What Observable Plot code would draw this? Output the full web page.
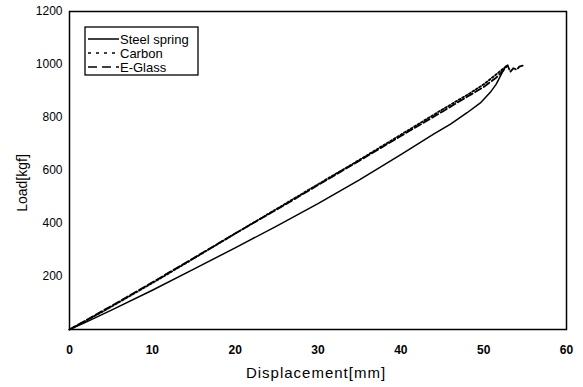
<!DOCTYPE html>
<html><head><meta charset="utf-8">
<script src="https://cdn.jsdelivr.net/npm/d3@7"></script>
<script src="https://cdn.jsdelivr.net/npm/@observablehq/plot@0.6"></script>
<style>
body{margin:0;background:#fff;}
#chart{width:583px;height:387px;}
</style></head><body><div id="chart"></div>
<script>
const xTicks = [0, 10, 20, 30, 40, 50, 60];
const yTicks = [200, 400, 600, 800, 1000, 1200];
const seriesNames = ["Steel spring", "Carbon", "E-Glass"];
const xTitle = "Displacement[mm]";
const yTitle = "Load[kgf]";

const steelX = [0, 2, 5, 10, 15, 20, 25, 30, 35, 40, 44, 46, 48, 49.6, 50.8, 51.5, 52, 52.5, 52.8];
const steelY = [0, 28, 72, 148, 228, 308, 390, 475, 565, 660, 738, 775, 818, 855, 895, 925, 955, 985, 996];

const carbonX = [0, 2, 5, 10, 15, 20, 25, 30, 35, 40, 45, 48, 50, 51.2, 52, 52.8];
const carbonY = [0, 33, 85, 175, 268, 362, 455, 548, 640, 735, 830, 885, 925, 955, 975, 996];

const glassX = [0, 2, 5, 10, 15, 20, 25, 30, 35, 40, 45, 48, 50, 51.5, 52.3, 52.9, 53.2, 53.6, 54.0, 54.3, 54.7];
const glassY = [0, 35, 88, 178, 270, 362, 452, 545, 637, 730, 822, 878, 915, 950, 975, 997, 972, 986, 980, 992, 996];

const toRows = (xs, ys) => xs.map((x, i) => ({x, y: ys[i]}));
const steel = toRows(steelX, steelY);
const carbon = toRows(carbonX, carbonY);
const glass = toRows(glassX, glassY);

const font = "'Liberation Sans', Arial, sans-serif";
const plot = Plot.plot({
  width: 583, height: 387,
  marginLeft: 69, marginRight: 17, marginTop: 11, marginBottom: 58,
  style: {fontFamily: font, background: "#fff", color: "#000"},
  x: {domain: [0, 60]},
  y: {domain: [0, 1200]},
  marks: [
    Plot.axisX({ticks: xTicks, tickFormat: d => String(d), tickSize: 0, tickPadding: 16, fontSize: 12, fontWeight: "bold", label: null}),
    Plot.axisY({ticks: yTicks, tickFormat: d => String(d), tickSize: 0, tickPadding: 7, fontSize: 12, label: null}),
    Plot.line(steel, {x: "x", y: "y", stroke: "#000", strokeWidth: 1.5}),
    Plot.line(carbon, {x: "x", y: "y", stroke: "#000", strokeWidth: 1.8, strokeDasharray: "2,2"}),
    Plot.line(glass, {x: "x", y: "y", stroke: "#000", strokeWidth: 1.8, strokeDasharray: "7,3"}),
    Plot.frame({stroke: "#000", strokeWidth: 1.5})
  ]
});
document.getElementById("chart").appendChild(plot);

const svg = d3.select(plot);
svg.append("text").attr("x", 316).attr("y", 378).attr("text-anchor", "middle")
  .style("font-family", font).style("font-size", "15px").style("letter-spacing", "1px").text(xTitle);
svg.append("text").attr("transform", "translate(27,183) rotate(-90)").attr("text-anchor", "middle")
  .style("font-family", font).style("font-size", "14px").text(yTitle);

const lg = svg.append("g");
lg.append("rect").attr("x", 85).attr("y", 27).attr("width", 113).attr("height", 48)
  .attr("fill", "#fff").attr("stroke", "#000").attr("stroke-width", 1.3);
const dashes = [null, "3,5", "9,5"];
seriesNames.forEach((name, i) => {
  const cy = 39 + i * 14;
  lg.append("line").attr("x1", 88).attr("x2", 119).attr("y1", cy).attr("y2", cy)
    .attr("stroke", "#000").attr("stroke-width", 1.5).attr("stroke-dasharray", dashes[i]);
  lg.append("text").attr("x", 120).attr("y", cy + 4.5).attr("text-anchor", "start")
    .style("font-family", font).style("font-size", "13px").text(name);
});
</script></body></html>
